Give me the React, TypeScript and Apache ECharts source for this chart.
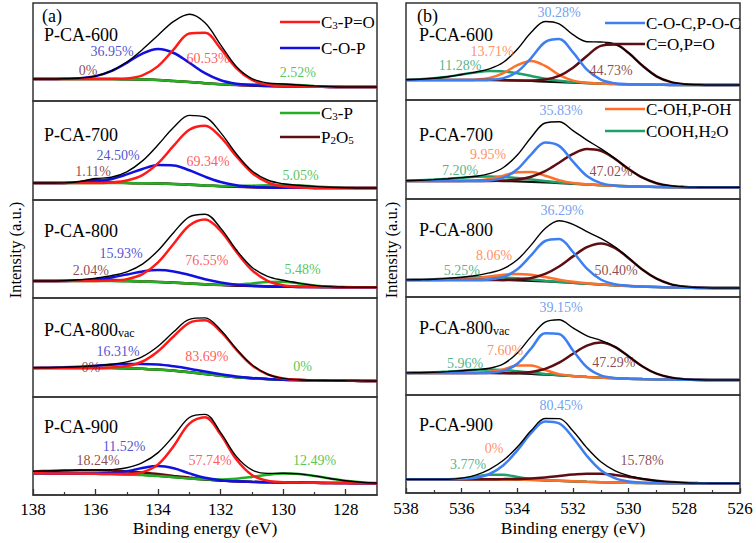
import React, { useEffect, useRef } from "react";
import * as echarts from "echarts";

const FONT = "'Liberation Serif', 'Times New Roman', serif";

// ================= Panel (a): P 2p =================
const P_ENERGY = [138, 137.5, 137, 136.5, 136, 135.5, 135, 134.5, 134, 133.5, 133, 132.5, 132, 131.5, 131, 130.5, 130, 129.5, 129, 128.5, 128, 127.5, 127];
const P_SAMPLES = ["P-CA-600", "P-CA-700", "P-CA-800", "P-CA-800|vac", "P-CA-900"];

const P_BASELINE = [
  [22, 22, 22, 22, 22, 22, 21.8, 21.5, 21, 20, 19, 17.8, 16.8, 16, 15.5, 15, 14.8, 14.5, 14.3, 14.1, 14, 14, 14],
  [17, 17, 17, 17, 17, 17, 17, 16.8, 16.5, 16, 15.3, 14.5, 13.8, 13.2, 12.8, 12.5, 12.3, 12.2, 12.1, 12, 12, 12, 12],
  [17, 17, 17, 17, 17, 17, 16.8, 16.5, 16, 15.3, 14.5, 13.7, 13, 12.4, 12, 11.6, 11.3, 11.1, 11, 10.9, 10.8, 10.7, 10.7],
  [29, 29, 29, 29, 29, 29, 28.7, 28.2, 27.5, 26.3, 24.8, 23, 21.3, 19.8, 18.7, 17.9, 17.3, 16.9, 16.6, 16.4, 16.2, 16.1, 16],
  [21.7, 21.6, 21.5, 21.4, 21.2, 21, 20.6, 20, 19, 17.8, 16.5, 15.3, 14.3, 13.6, 13.1, 12.8, 12.6, 12.4, 12.2, 12, 11.9, 11.8, 11.7],
];
// component heights above the baseline
const P_C3PO = [
  [0, 0, 0, 0, 0, 0.1, 0.8, 4.1, 13.9, 31.6, 48.5, 50.4, 35.5, 16.9, 5.5, 1.2, 0.2],
  [0, 0, 0, 0, 0, 0.6, 2.5, 8.1, 20.3, 38.3, 54.9, 59.7, 49.1, 30.7, 14.5, 5.2, 1.4, 0.3],
  [0, 0, 0, 0, 0, 0.4, 2.1, 7.3, 19.6, 39.0, 58.1, 64.9, 54.2, 33.9, 15.9, 5.6, 1.5, 0.3],
  [0, 0, 0, 0, 0, 0.5, 2.2, 7.3, 18.3, 34.5, 49.4, 53.7, 44.2, 27.6, 13.1, 4.7, 1.3, 0.3],
  [0, 0, 0, 0, 0, 0, 0.4, 2.8, 11.6, 31.2, 54.9, 62.5, 46.1, 22.1, 6.9, 1.4, 0.2],
];
const P_COP = [
  [0, 0, 0.2, 0.8, 2.9, 7.9, 16.4, 25.9, 30.9, 28.0, 19.2, 10.0, 3.9, 1.2, 0.4],
  [0, 0, 0.1, 0.4, 1.5, 4.0, 8.6, 14.2, 18.4, 18.5, 14.4, 8.8, 4.2, 1.5, 0.4, 0.1],
  [0, 0, 0.1, 0.5, 1.5, 3.6, 6.7, 10.0, 11.9, 11.3, 8.5, 5.1, 2.5, 0.9, 0.3],
  [0.1, 0.3, 0.7, 1.3, 2.2, 3.2, 4.2, 4.9, 5.0, 4.4, 3.5, 2.4, 1.5, 0.8, 0.4, 0.15],
  [0, 0, 0, 0, 0.2, 0.9, 3.2, 7.0, 9.9, 8.9, 5.1, 1.9, 0.4, 0.1],
];
const P_C3P = [
  [0, 0, 0, 0, 0, 0, 0, 0, 0, 0, 0, 0, 0, 0.4, 1.0, 1.8, 2.0, 1.5, 0.8, 0.3],
  [0, 0, 0, 0, 0, 0, 0, 0, 0, 0, 0, 0, 0.3, 0.8, 1.5, 2.2, 2.5, 2.2, 1.5, 0.8, 0.3],
  [0, 0, 0, 0, 0, 0, 0, 0, 0, 0, 0, 0, 0.2, 1.0, 2.6, 4.5, 4.9, 3.5, 1.6, 0.5, 0.1],
  [],
  [0, 0, 0, 0, 0, 0, 0, 0, 0, 0, 0.1, 0.45, 1.2, 2.7, 5.0, 7.4, 8.9, 8.7, 6.9, 4.5, 2.3, 1.0, 0.35],
];
const P_P2O5 = [
  [],
  [0, 0, 0.05, 1.1, 3.0, 1.1, 0.1],
  [0, 0, 0.2, 0.75, 1.4, 1.3, 0.6, 0.1],
  [],
  [1.9, 2.5, 3.0, 3.4, 3.5, 3.4, 3.0, 2.5, 1.9, 1.3, 0.9, 0.5, 0.3, 0.15, 0.1],
];
const P_PCT_C3PO = ["60.53%", "69.34%", "76.55%", "83.69%", "57.74%"];
const P_PCT_COP = ["36.95%", "24.50%", "15.93%", "16.31%", "11.52%"];
const P_PCT_C3P = ["2.52%", "5.05%", "5.48%", "0%", "12.49%"];
const P_PCT_P2O5 = ["0%", "1.11%", "2.04%", "0%", "18.24%"];
const P_TICKS = [128, 130, 132, 134, 136, 138];
const P_MINOR_TICKS = [129, 131, 133, 135, 137];

// ================= Panel (b): O 1s =================
const O_ENERGY = [538, 537.5, 537, 536.5, 536, 535.5, 535, 534.5, 534, 533.5, 533, 532.5, 532, 531.5, 531, 530.5, 530, 529.5, 529, 528.5, 528, 527.5, 527, 526.5, 526];
const O_SAMPLES = ["P-CA-600", "P-CA-700", "P-CA-800", "P-CA-800|vac", "P-CA-900"];

const O_BASELINE = [
  [20, 20, 20, 20, 20, 20, 20, 19.8, 19.5, 19, 18.4, 17.8, 17.3, 16.8, 16.4, 16, 15.7, 15.4, 15.2, 15.1, 15, 15, 15, 15, 15],
  [18, 18, 18, 18, 18, 18, 18, 17.9, 17.6, 17.2, 16.6, 15.9, 15.2, 14.5, 13.8, 13.2, 12.7, 12.3, 12, 11.8, 11.7, 11.7, 11.7, 11.7, 11.7],
  [17, 17, 17, 17, 17, 17, 17, 16.9, 16.6, 16.2, 15.6, 14.9, 14.1, 13.3, 12.5, 11.7, 11, 10.4, 10, 9.6, 9.3, 9.1, 9, 9, 9],
  [22, 22, 22, 22, 22, 22, 22, 21.8, 21.5, 21, 20.4, 19.7, 18.9, 18.1, 17.4, 16.8, 16.3, 15.9, 15.6, 15.4, 15.2, 15.1, 15, 15, 15],
  [13.7, 13.7, 13.7, 13.7, 13.7, 13.7, 13.7, 13.6, 13.4, 13.1, 12.7, 12.2, 11.7, 11.2, 10.8, 10.5, 10.2, 10, 9.9, 9.8, 9.7, 9.7, 9.7, 9.7, 9.7],
];
const O_COC = [
  [0, 0, 0, 0, 0, 0, 0.3, 2.1, 8.7, 23.2, 39.5, 43.2, 30.3, 13.6, 3.9, 0.7, 0.1],
  [0, 0, 0, 0, 0, 0, 0.6, 3.4, 12.1, 27.5, 40.0, 37.2, 22.2, 8.5, 2.1, 0.3],
  [0, 0, 0, 0, 0, 0, 0.6, 3.2, 11.1, 25.6, 40.4, 43.0, 30.9, 15.1, 5.0, 1.1, 0.2],
  [0, 0, 0, 0, 0, 0, 0.3, 2.3, 9.7, 25.6, 41.4, 41.4, 25.6, 9.7, 2.3, 0.3],
  [0, 0, 0, 0, 0.4, 1.6, 5.3, 14.2, 29.2, 47.0, 58.8, 57.4, 43.6, 25.8, 11.9, 4.3, 1.2, 0.3],
];
const O_CO = [
  [0, 0, 0, 0, 0, 0, 0, 0, 0.1, 0.5, 2.0, 6.3, 15.0, 27.3, 37.7, 39.4, 31.2, 18.8, 8.5, 3.0, 0.8, 0.2],
  [0, 0, 0, 0, 0, 0, 0.1, 0.6, 1.9, 5.1, 11.3, 20.4, 29.9, 35.6, 34.4, 27.1, 17.3, 9.0, 3.8, 1.3, 0.4, 0.1],
  [0, 0, 0, 0, 0, 0, 0, 0.2, 0.9, 2.9, 7.5, 15.6, 26.5, 36.5, 41.0, 37.4, 27.8, 16.8, 8.3, 3.3, 1.1, 0.3],
  [0, 0, 0, 0, 0, 0, 0, 0.1, 0.6, 2.1, 5.7, 12.6, 22.3, 31.3, 35.0, 31.3, 22.3, 12.6, 5.7, 2.1, 0.6, 0.1],
  [0, 0, 0, 0, 0, 0, 0.1, 0.3, 0.7, 1.5, 2.9, 4.8, 6.7, 8.1, 8.5, 7.6, 5.9, 4.0, 2.3, 1.1, 0.5, 0.2, 0.1],
];
const O_COH = [
  [0, 0, 0, 0, 0, 0.3, 2.0, 7.1, 15.3, 20.0, 15.7, 7.4, 2.1, 0.4],
  [0, 0, 0, 0, 0.1, 0.5, 2.1, 5.4, 9.1, 9.7, 6.7, 3.0, 0.8, 0.2],
  [0, 0, 0, 0.2, 0.7, 1.8, 3.5, 5.4, 6.5, 6.0, 4.3, 2.4, 1.1, 0.4, 0.1],
  [0, 0, 0, 0, 0, 0.1, 0.9, 3.7, 7.9, 8.5, 4.6, 1.2, 0.2],
  [],
];
const O_COOH = [
  [0.3, 0.7, 1.7, 3.3, 5.5, 7.6, 8.9, 8.7, 7.2, 5.0, 2.9, 1.4, 0.6, 0.2],
  [0.3, 0.7, 1.4, 2.3, 3.3, 4.2, 4.5, 4.2, 3.3, 2.3, 1.4, 0.7, 0.3, 0.1],
  [0.1, 0.3, 0.7, 1.4, 2.1, 2.7, 3.0, 2.7, 2.1, 1.4, 0.7, 0.3, 0.1],
  [0.1, 0.3, 0.7, 1.4, 2.3, 3.2, 3.5, 3.2, 2.3, 1.4, 0.7, 0.3, 0.1],
  [0, 0, 0, 0.1, 0.8, 2.6, 4.6, 4.6, 2.6, 0.8, 0.1],
];
const O_PCT_COC = ["30.28%", "35.83%", "36.29%", "39.15%", "80.45%"];
const O_PCT_CO = ["44.73%", "47.02%", "50.40%", "47.29%", "15.78%"];
const O_PCT_COH = ["13.71%", "9.95%", "8.06%", "7.60%", "0%"];
const O_PCT_COOH = ["11.28%", "7.20%", "5.25%", "5.96%", "3.77%"];

// ================= layout (label anchors in data units, grid boxes) =================
const P_POS = {
  c3po: [[132.4, 43], [132.4, 38.3], [132.44, 38], [132.44, 41], [132.34, 34.3]],
  cop: [[135.47, 49.5], [135.28, 45], [135.18, 45], [135.28, 46], [135.09, 48.3]],
  c3p: [[129.53, 29], [129.44, 25], [129.38, 29], [129.38, 31], [129.0, 34.3]],
  p2o5: [[136.24, 31], [136.08, 28.3], [136.15, 28], [136.15, 30], [135.92, 34.3]],
};
const O_POS = {
  coc: [[532.5, 87.3], [532.43, 89], [532.39, 87], [532.43, 88], [532.43, 88]],
  co: [[530.63, 30], [530.63, 27.3], [530.45, 27], [530.53, 33], [529.52, 33]],
  coh: [[534.91, 48.3], [535.05, 45], [534.84, 42], [534.44, 45], [534.84, 45]],
  cooh: [[536.06, 35], [536.06, 29], [535.99, 27], [535.88, 32], [535.77, 29]],
};

const LEFT_BOX = { left: 33, width: 344, tops: [3, 101, 200, 298, 397], heights: [98, 99, 98, 99, 98] };
const RIGHT_BOX = { left: 406, width: 334, tops: [3, 100, 199, 297, 395], heights: [97, 99, 98, 98, 98] };

type Comp = { values: number[][]; color: string; labelColor: string; pct: string[]; pos: number[][] };

function buildPanel(offset: number, energy: number[], baseline: number[][], comps: Comp[], series: any[]) {
  for (let s = 0; s < 5; s++) {
    const g = offset + s;
    const base = baseline[s];
    const common = {
      type: "line",
      xAxisIndex: g,
      yAxisIndex: g,
      showSymbol: false,
      symbol: "none",
      smooth: 0.35,
      silent: true,
      animation: false,
    };
    series.push({
      ...common,
      data: energy.map((e, i) => [e, base[i]]),
      lineStyle: { color: "#111", width: 2.2 },
      z: 2,
    });
    comps.forEach((c) => {
      const arr = c.values[s];
      series.push({
        ...common,
        data: energy.map((e, i) => [e, base[i] + (arr[i] ?? 0)]),
        lineStyle: { color: c.color, width: 2.5 },
        z: 3,
      });
    });
    series.push({
      ...common,
      data: energy.map((e, i) => [e, base[i] + comps.reduce((acc, c) => acc + (c.values[s][i] ?? 0), 0)]),
      lineStyle: { color: "#000", width: 1.4 },
      z: 4,
    });
    series.push({
      type: "scatter",
      xAxisIndex: g,
      yAxisIndex: g,
      symbolSize: 1,
      silent: true,
      animation: false,
      itemStyle: { color: "rgba(0,0,0,0)" },
      z: 5,
      label: {
        show: true,
        position: "inside",
        formatter: (p: any) => p.name,
        fontSize: 14,
        fontFamily: FONT,
      },
      data: comps.map((c) => ({
        value: c.pos[s],
        name: c.pct[s],
        label: { color: c.labelColor },
      })),
    });
  }
}

function richText(x: number, y: number, text: string, size: number, subSize: number, color = "#000") {
  return {
    type: "text",
    x,
    y,
    z: 100,
    silent: true,
    style: {
      text,
      align: "left",
      verticalAlign: "middle",
      rich: {
        m: { fontSize: size, fontFamily: FONT, fill: color, lineHeight: size },
        s: { fontSize: subSize, fontFamily: FONT, fill: color, lineHeight: 6, verticalAlign: "bottom" },
      },
    },
  };
}

function plainText(x: number, y: number, text: string, size: number) {
  return {
    type: "text",
    x,
    y,
    z: 100,
    silent: true,
    style: { text, fontSize: size, fontFamily: FONT, fill: "#000", align: "left", verticalAlign: "middle" },
  };
}

function sampleLabel(x: number, y: number, name: string) {
  const [main, sub] = name.split("|");
  if (!sub) return plainText(x, y, main, 18);
  return richText(x, y, `{m|${main}}{s|${sub}}`, 18, 12);
}

function legendItem(x1: number, x2: number, y: number, color: string, text: string) {
  return [
    {
      type: "line",
      silent: true,
      z: 100,
      shape: { x1, y1: y, x2, y2: y },
      style: { stroke: color, lineWidth: 2.6 },
    },
    richText(x2 + 1, y, text, 17, 11),
  ];
}

export default function App() {
  const ref = useRef<HTMLDivElement>(null);

  useEffect(() => {
    document.body.style.margin = "0";
    if (!ref.current) return;
    const chart = echarts.init(ref.current, undefined, { renderer: "svg" });

    const grids: any[] = [];
    const xAxes: any[] = [];
    const yAxes: any[] = [];
    const axisColor = "#333";

    for (let s = 0; s < 5; s++) {
      grids.push({
        left: LEFT_BOX.left,
        width: LEFT_BOX.width,
        top: LEFT_BOX.tops[s],
        height: LEFT_BOX.heights[s],
        show: true,
        borderColor: axisColor,
        borderWidth: 1.5,
        backgroundColor: "transparent",
      });
    }
    for (let s = 0; s < 5; s++) {
      grids.push({
        left: RIGHT_BOX.left,
        width: RIGHT_BOX.width,
        top: RIGHT_BOX.tops[s],
        height: RIGHT_BOX.heights[s],
        show: true,
        borderColor: axisColor,
        borderWidth: 1.5,
        backgroundColor: "transparent",
      });
    }
    // overlay grid carrying the minor ticks of panel (a)
    grids.push({ left: LEFT_BOX.left, width: LEFT_BOX.width, top: LEFT_BOX.tops[4], height: LEFT_BOX.heights[4], show: false });

    const nameStyle = { fontSize: 17.5, fontFamily: FONT, color: "#000" };
    const labelStyle = { fontSize: 17, fontFamily: FONT, color: "#000" };

    for (let s = 0; s < 5; s++) {
      const bottom = s === 4;
      xAxes.push({
        gridIndex: s,
        type: "value",
        min: 127,
        max: 138,
        inverse: true,
        show: bottom,
        splitLine: { show: false },
        axisLine: { show: bottom, lineStyle: { color: axisColor, width: 1.5 } },
        axisTick: { show: bottom, inside: true, length: 6, customValues: P_TICKS, lineStyle: { color: axisColor, width: 1.3 } },
        axisLabel: { show: bottom, customValues: P_TICKS, margin: 6, ...labelStyle },
        name: bottom ? "Binding energy (eV)" : "",
        nameLocation: "middle",
        nameGap: 24,
        nameTextStyle: nameStyle,
      });
      yAxes.push({ gridIndex: s, type: "value", min: 0, max: LEFT_BOX.heights[s], show: false });
    }
    for (let s = 0; s < 5; s++) {
      const bottom = s === 4;
      xAxes.push({
        gridIndex: 5 + s,
        type: "value",
        min: 526,
        max: 538,
        interval: 2,
        inverse: true,
        show: bottom,
        splitLine: { show: false },
        axisLine: { show: bottom, lineStyle: { color: axisColor, width: 1.5 } },
        axisTick: { show: bottom, inside: true, length: 5, lineStyle: { color: axisColor, width: 1.3 } },
        minorTick: { show: bottom, splitNumber: 2, length: 3, lineStyle: { color: axisColor, width: 1.2 } },
        minorSplitLine: { show: false },
        axisLabel: { show: bottom, margin: 7, ...labelStyle },
        name: bottom ? "Binding energy (eV)" : "",
        nameLocation: "middle",
        nameGap: 26,
        nameTextStyle: nameStyle,
      });
      yAxes.push({ gridIndex: 5 + s, type: "value", min: 0, max: RIGHT_BOX.heights[s], show: false });
    }
    xAxes.push({
      gridIndex: 10,
      type: "value",
      min: 127,
      max: 138,
      inverse: true,
      splitLine: { show: false },
      axisLine: { show: false },
      axisLabel: { show: false },
      axisTick: { show: true, inside: true, length: 3, customValues: P_MINOR_TICKS, lineStyle: { color: axisColor, width: 1.2 } },
    });
    yAxes.push({ gridIndex: 10, type: "value", min: 0, max: 1, show: false });

    const series: any[] = [];
    buildPanel(0, P_ENERGY, P_BASELINE, [
      { values: P_P2O5, color: "#5e0d12", labelColor: "#6e1a1e", pct: P_PCT_P2O5, pos: P_POS.p2o5 },
      { values: P_C3P, color: "#22b022", labelColor: "#2db52d", pct: P_PCT_C3P, pos: P_POS.c3p },
      { values: P_COP, color: "#1010e0", labelColor: "#2424c8", pct: P_PCT_COP, pos: P_POS.cop },
      { values: P_C3PO, color: "#ff1a1a", labelColor: "#ff3030", pct: P_PCT_C3PO, pos: P_POS.c3po },
    ], series);
    buildPanel(5, O_ENERGY, O_BASELINE, [
      { values: O_COOH, color: "#1f9f6a", labelColor: "#26a26f", pct: O_PCT_COOH, pos: O_POS.cooh },
      { values: O_COH, color: "#ff6f2a", labelColor: "#ff7435", pct: O_PCT_COH, pos: O_POS.coh },
      { values: O_CO, color: "#5e0d12", labelColor: "#6e1a1e", pct: O_PCT_CO, pos: O_POS.co },
      { values: O_COC, color: "#3d7ff0", labelColor: "#4a86ee", pct: O_PCT_COC, pos: O_POS.coc },
    ], series);

    const graphic: any[] = [
      plainText(42, 16, "(a)", 18),
      plainText(417, 16, "(b)", 18),
      ...P_SAMPLES.map((n, i) => sampleLabel(44, [35, 135, 231, 330, 427][i], n)),
      ...O_SAMPLES.map((n, i) => sampleLabel(419, [35, 135, 230, 328, 425][i], n)),
      ...legendItem(280, 320, 22, "#ff1a1a", "{m|C}{s|3}{m|-P=O}"),
      ...legendItem(280, 320, 48, "#1010e0", "{m|C-O-P}"),
      ...legendItem(280, 320, 113, "#22b022", "{m|C}{s|3}{m|-P}"),
      ...legendItem(280, 320, 137, "#5e0d12", "{m|P}{s|2}{m|O}{s|5}"),
      ...legendItem(605, 645, 23, "#3d7ff0", "{m|C-O-C,P-O-C}"),
      ...legendItem(605, 645, 44, "#5e0d12", "{m|C=O,P=O}"),
      ...legendItem(605, 645, 109, "#ff6f2a", "{m|C-OH,P-OH}"),
      ...legendItem(605, 645, 131, "#1f9f6a", "{m|COOH,H}{s|2}{m|O}"),
      {
        type: "text",
        x: 15,
        y: 250,
        rotation: Math.PI / 2,
        silent: true,
        style: { text: "Intensity (a.u.)", fontSize: 16.5, fontFamily: FONT, fill: "#000", align: "center", verticalAlign: "middle" },
      },
      {
        type: "text",
        x: 391,
        y: 250,
        rotation: Math.PI / 2,
        silent: true,
        style: { text: "Intensity (a.u.)", fontSize: 16.5, fontFamily: FONT, fill: "#000", align: "center", verticalAlign: "middle" },
      },
    ];

    chart.setOption({
      animation: false,
      backgroundColor: "#fff",
      grid: grids,
      xAxis: xAxes,
      yAxis: yAxes,
      series,
      graphic,
    });

    return () => chart.dispose();
  }, []);

  return <div ref={ref} style={{ width: 756, height: 543 }} />;
}
